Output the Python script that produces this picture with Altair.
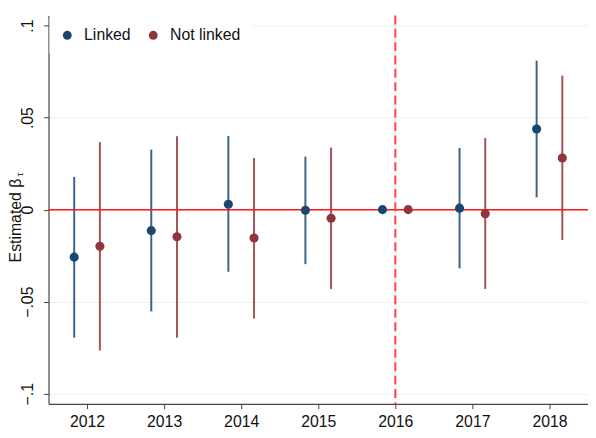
import altair as alt
import pandas as pd

years = [2012, 2013, 2014, 2015, 2016, 2017, 2018]
groups = ["Linked", "Not linked"]
colors = ["#1a476f", "#90353b"]

linked_est = [-0.0258, -0.0114, 0.0029, -0.0003, 0.0, 0.0008, 0.0438]
linked_lo = [-0.0696, -0.0553, -0.0337, -0.0296, None, -0.0319, 0.0067]
linked_hi = [0.0178, 0.0326, 0.0400, 0.0288, None, 0.0335, 0.0810]

notlinked_est = [-0.0199, -0.0147, -0.0154, -0.0047, 0.0, -0.0022, 0.0281]
notlinked_lo = [-0.0765, -0.0696, -0.0592, -0.0431, None, -0.0431, -0.0165]
notlinked_hi = [0.0367, 0.0399, 0.0281, 0.0337, None, 0.0390, 0.0728]

y_ticks = [-0.1, -0.05, 0, 0.05, 0.1]
event_year = 2016

rows = []
for g, est, lo, hi, off in [
    ("Linked", linked_est, linked_lo, linked_hi, -1 / 6),
    ("Not linked", notlinked_est, notlinked_lo, notlinked_hi, 1 / 6),
]:
    for i, yr in enumerate(years):
        rows.append({"group": g, "year": yr, "xpos": yr + off,
                     "est": est[i], "lo": lo[i], "hi": hi[i]})
df = pd.DataFrame(rows)

font = "Liberation Sans"
fs = 16
xscale = alt.Scale(domain=[2011.5, 2018.5], nice=False, zero=False)
yscale = alt.Scale(domain=[-0.1055, 0.1055], nice=False, zero=False)
cscale = alt.Scale(domain=groups, range=colors)

xaxis = alt.Axis(values=years, format="d", title=None, grid=False,
                 labelFontSize=fs, labelFont=font, labelColor="#111",
                 tickSize=5, tickColor="#444", domainColor="#444",
                 labelPadding=5, labelFlush=False)
yaxis = alt.Axis(values=y_ticks, title="Estimated β", grid=True,
                 gridColor="#eaf2f3", gridWidth=1,
                 labelExpr="replace(format(datum.value, '.2~f'), '0.', '.')",
                 labelAngle=270, labelAlign="center", labelBaseline="bottom",
                 labelFontSize=fs, labelFont=font, labelColor="#111",
                 labelPadding=8, tickSize=5, tickColor="#444", domainColor="#444",
                 titleFontSize=fs, titleFont=font, titleFontWeight="normal",
                 titleColor="#111", titleAngle=270, titleAlign="center",
                 titleBaseline="middle", titleX=-33, titleY=207)

base = alt.Chart(df)

ci_layers = []
for g, c in zip(groups, colors):
    ci_layers.append(
        base.transform_filter(
            f"isValid(datum.lo) && datum.group == '{g}'"
        ).mark_rule(strokeWidth=2, opacity=0.85, color=c).encode(
            x=alt.X("xpos:Q", scale=xscale, axis=xaxis),
            y=alt.Y("lo:Q", scale=yscale, axis=yaxis),
            y2="hi:Q",
        )
    )

zero_line = alt.Chart(pd.DataFrame({"y": [0]})).mark_rule(
    color="#ff1a1a", strokeWidth=1.5
).encode(y=alt.Y("y:Q", scale=yscale))

vline = alt.Chart(pd.DataFrame({"x": [event_year]})).mark_rule(
    color="#ff4040", strokeWidth=2, strokeDash=[9, 4.5]
).encode(x=alt.X("x:Q", scale=xscale))

points = base.mark_circle(size=85, opacity=1).encode(
    x=alt.X("xpos:Q", scale=xscale),
    y=alt.Y("est:Q", scale=yscale),
    color=alt.Color(
        "group:N", scale=cscale,
        legend=alt.Legend(
            title=None, orient="none", legendX=1, legendY=2,
            direction="horizontal", fillColor="white", padding=10,
            labelFontSize=fs, labelFont=font, labelColor="#111",
            symbolSize=80, symbolType="circle", symbolStrokeWidth=0,
            labelOffset=9, columnPadding=14,
        ),
    ),
)

tau = alt.Chart(pd.DataFrame({"t": ["τ"]})).mark_text(
    angle=270, fontSize=10, font=font, color="#111", align="center",
    baseline="middle"
).encode(text="t:N", x=alt.value(-29), y=alt.value(161))

chart = alt.layer(*ci_layers, zero_line, vline, points, tau).properties(
    width=546, height=393,
    autosize="none",
    padding={"left": 41, "top": 5, "right": 0, "bottom": 30},
).configure_view(stroke=None).configure_axis(domainWidth=1.2)

chart.save("out.html", embed_options={"renderer": "svg", "actions": False})
